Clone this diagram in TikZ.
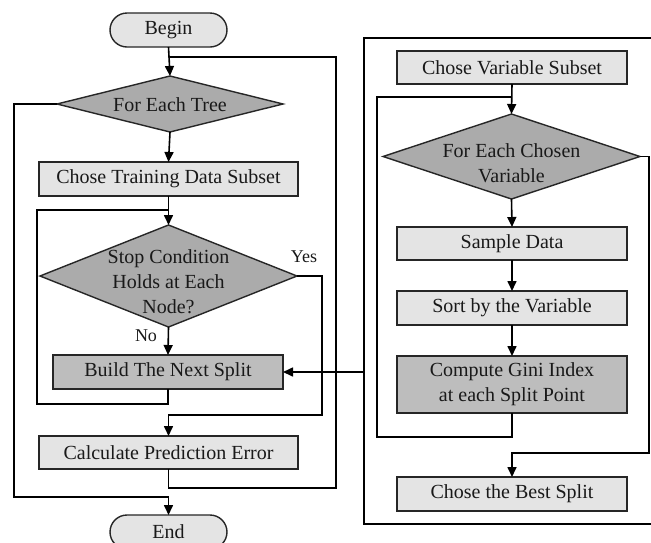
\documentclass[tikz,border=0pt]{standalone}
\usepackage{fontspec}
\setmainfont{Liberation Serif}
\usetikzlibrary{shapes.geometric,arrows.meta}
\definecolor{lightbox}{HTML}{E4E4E4}
\definecolor{darkbox}{HTML}{BDBDBD}
\definecolor{diafill}{HTML}{ABABAB}
\definecolor{edge}{HTML}{262626}
\begin{document}
\begin{tikzpicture}[x=1pt,y=-1pt,
  every node/.style={font=\fontsize{20}{25}\selectfont, text=black!90, outer sep=0pt, inner sep=0pt},
  lbox/.style={draw=edge, line width=1.4pt, fill=lightbox, rectangle, minimum height=34pt},
  dbox/.style={draw=edge, line width=1.4pt, fill=darkbox, rectangle, minimum height=34pt},
  term/.style={draw=edge, line width=1.4pt, fill=lightbox, rectangle, rounded corners=17pt, minimum width=117pt, minimum height=34pt},
  dia/.style={draw=edge, line width=1.4pt, fill=diafill, diamond},
  conn/.style={draw=black, line width=1.6pt},
  arr/.style={conn, -{Triangle[length=10pt,width=9pt]}},
  lbl/.style={font=\fontsize{18}{22}\selectfont}
]
\useasboundingbox (0,0) rectangle (651,542);
\clip (0,0) rectangle (651,542);
\fill[white] (0,0) rectangle (651,542);

% ---------- left column ----------
\node[term] (begin) at (168.5,30) {Begin};
\node[dia, minimum width=226pt, minimum height=56pt] (tree) at (170,104) {};
\node (treet) at (170,105) {For Each Tree};
\node[lbox, minimum width=259pt] (train) at (168.5,179) {Chose Training Data Subset};
\node[dia, minimum width=257pt, minimum height=102pt] (stop) at (168.5,276) {};
\node[align=center] (stopt) at (168.5,282) {Stop Condition\\Holds at Each\\Node?};
\node[dbox, minimum width=230pt] (build) at (168,372) {Build The Next Split};
\node[lbox, minimum width=259pt, minimum height=33pt] (calc) at (168.5,452.5) {Calculate Prediction Error};
\node[term] (end) at (168.5,532) {End};
\node[lbl] (yes) at (304,257) {Yes};
\node[lbl] (no) at (146,336) {No};

\coordinate (j1) at (168.5,57);
\coordinate (j2) at (168.5,210);
\coordinate (j3) at (168.5,415);
\coordinate (j4) at (168.5,497);

\draw[arr] (begin.south) -- (tree.north);
\draw[conn] (calc.south) |- (336,488) |- (j1);
\draw[arr] (tree.west) -| (14,497) -| (end.north);
\draw[arr] (tree.south) -- (train.north);
\draw[arr] (train.south) -- (stop.north);
\draw[conn] (build.south) |- (37,404) |- (j2);
\draw[arr] (stop.south) -- (build.north);
\draw[arr] (stop.east) -| (322,415) -| (calc.north);

% ---------- right column ----------
\draw[conn, line width=1.4pt] (660,38) -- (364,38) -- (364,524) -- (660,524);
\coordinate (fl) at (364,372);
\draw[arr] (fl) -- (build.east);

\node[lbox, minimum width=230pt, minimum height=33pt] (varsub) at (512,67.5) {Chose Variable Subset};
\node[dia, minimum width=257pt, minimum height=85pt] (each) at (511.5,156.5) {};
\node[align=center] (eacht) at (511.5,163) {For Each Chosen\\Variable};
\node[lbox, minimum width=230pt, minimum height=33pt] (sample) at (512,243.5) {Sample Data};
\node[lbox, minimum width=230pt] (sort) at (512,308) {Sort by the Variable};
\node[dbox, minimum width=230pt, minimum height=57pt, align=center] (gini) at (512,384.5) {Compute Gini Index\\at each Split Point};
\node[lbox, minimum width=230pt] (best) at (512,494) {Chose the Best Split};

\coordinate (k1) at (512,97);

\draw[arr] (varsub.south) -- (each.north);
\draw[conn] (gini.south) |- (377,437) |- (k1);
\draw[arr] (each.south) -- (sample.north);
\draw[arr] (sample.south) -- (sort.north);
\draw[arr] (sort.south) -- (gini.north);
\draw[arr] (each.east) -| (649,453) -| (best.north);
\end{tikzpicture}
\end{document}
